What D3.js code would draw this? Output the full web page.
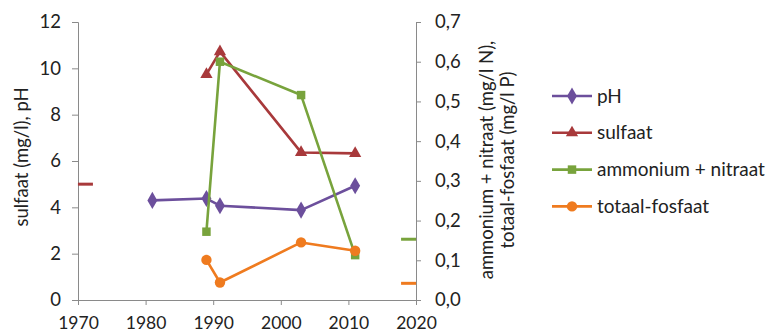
<!DOCTYPE html>
<html><head><meta charset="utf-8">
<script src="https://cdn.jsdelivr.net/npm/d3@7"></script>
<style>body{margin:0;background:#fff}svg text{font-family:Lato,"Open Sans",sans-serif;fill:#222}</style>
</head><body><svg id="c" width="770" height="334"></svg>
<script>
const xTicks = [1970,1980,1990,2000,2010,2020];
const yLeftTicks = [0,2,4,6,8,10,12];
const yRightTicks = [0,0.1,0.2,0.3,0.4,0.5,0.6,0.7];
const phData = [[1981,4.3],[1989,4.38],[1991,4.07],[2003,3.88],[2011,4.93]];
const sulfaatData = [[1989,9.74],[1991,10.72],[2003,6.37],[2011,6.33]];
const nData = [[1989,0.172],[1991,0.600],[2003,0.516],[2011,0.113]];
const pData = [[1989,0.101],[1991,0.044],[2003,0.145],[2011,0.124]];
// reference (norm) values shown as short dashes at the chart edges
const sulfaatNorm = [[1971.1,5.0]];
const nNorm = [[2018.9,0.153]];
const pNorm = [[2018.9,0.042]];
const legendLabels = ["pH","sulfaat","ammonium + nitraat","totaal-fosfaat"];

const C = {ph:"#6c4f9c", s:"#a8393b", n:"#78a33c", p:"#ef7b1f", axis:"#8a8a8a"};
const FS = "18.5px";
const svg = d3.select("#c");
const x = d3.scaleLinear().domain([1970,2020]).range([78,416]);
const yL = d3.scaleLinear().domain([0,12]).range([300,22]);
const yR = d3.scaleLinear().domain([0,0.7]).range([300,22]);

function styleAxis(g, fs){
  g.selectAll("path,line").attr("stroke",C.axis).attr("stroke-width",1);
  g.selectAll("text").style("font-size",fs||FS).attr("fill","#222");
}
svg.append("g").attr("transform","translate(0,300)")
  .call(d3.axisBottom(x).tickValues(xTicks).tickFormat(d3.format("d")).tickSizeOuter(0).tickSize(5).tickPadding(12))
  .call(g=>styleAxis(g,"17.5px"));
svg.append("g").attr("transform","translate(78,0)")
  .call(d3.axisLeft(yL).tickValues(yLeftTicks).tickSizeOuter(0).tickSize(6).tickPadding(11))
  .call(g=>styleAxis(g));
svg.append("g").attr("transform","translate(416,0)")
  .call(d3.axisRight(yR).tickValues(yRightTicks).tickFormat(d=>d3.format(".1f")(d).replace(".",",")).tickSizeOuter(0).tickSize(5).tickPadding(14))
  .call(g=>styleAxis(g));

// axis titles
svg.append("text").attr("transform","translate(28,157) rotate(-90)").attr("text-anchor","middle")
  .style("font-size",FS).text("sulfaat (mg/l), pH");
svg.append("text").attr("transform","translate(493,160) rotate(-90)").attr("text-anchor","middle")
  .style("font-size",FS).text("ammonium + nitraat (mg/l N),");
svg.append("text").attr("transform","translate(514,160) rotate(-90)").attr("text-anchor","middle")
  .style("font-size",FS).text("totaal-fosfaat (mg/l P)");

function series(data, y, color, marker){
  const line = d3.line().x(d=>x(d[0])).y(d=>y(d[1]));
  svg.append("path").datum(data).attr("d",line).attr("fill","none").attr("stroke",color).attr("stroke-width",2.6).attr("stroke-linejoin","round");
  svg.selectAll(null).data(data).enter().append("path")
    .attr("transform",d=>`translate(${x(d[0])},${y(d[1])})`)
    .attr("d",marker).attr("fill",color);
}
const diamond = d3.symbol().type(d3.symbolDiamond).size(85)();
const tri = d3.symbol().type(d3.symbolTriangle).size(65)();
const sq = d3.symbol().type(d3.symbolSquare).size(72)();
const circ = d3.symbol().type(d3.symbolCircle).size(85)();

function dashes(data, y, color){
  svg.selectAll(null).data(data).enter().append("line")
    .attr("x1",d=>x(d[0])-7.5).attr("x2",d=>x(d[0])+7.5)
    .attr("y1",d=>y(d[1])).attr("y2",d=>y(d[1]))
    .attr("stroke",color).attr("stroke-width",3);
}
dashes(sulfaatNorm, yL, C.s);
dashes(nNorm, yR, C.n);
dashes(pNorm, yR, C.p);

series(phData, yL, C.ph, diamond);
series(sulfaatData, yL, C.s, tri);
series(nData, yR, C.n, sq);
series(pData, yR, C.p, circ);

// legend
const lg = [[C.ph,diamond],[C.s,tri],[C.n,sq],[C.p,circ]];
legendLabels.forEach((t,i)=>{
  const yy = 96 + i*36.8;
  svg.append("line").attr("x1",552).attr("x2",592).attr("y1",yy).attr("y2",yy).attr("stroke",lg[i][0]).attr("stroke-width",2.6);
  svg.append("path").attr("transform",`translate(572,${yy})`).attr("d",lg[i][1]).attr("fill",lg[i][0]);
  svg.append("text").attr("x",597).attr("y",yy+6.5).style("font-size","19px").text(t);
});
</script></body></html>
